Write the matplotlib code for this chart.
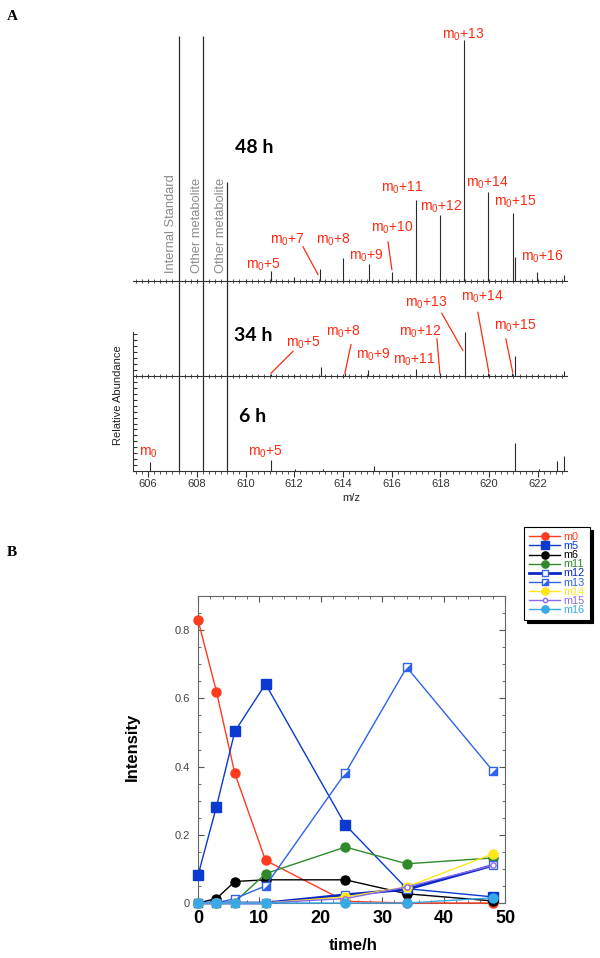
import numpy as np
import matplotlib
matplotlib.use('Agg')
import matplotlib.pyplot as plt
from matplotlib.ticker import MultipleLocator, FixedLocator, FuncFormatter, NullFormatter

plt.rcParams['font.family'] = ['Liberation Sans', 'DejaVu Sans']
plt.rcParams['mathtext.default'] = 'regular'

# ---------------- panel A data (m/z, peak height in panel units) ----------------
# tall peaks crossing all three spectra, top measured from the 6 h baseline
big_mz = [607.26, 608.25, 609.25]
big_top = [4.58, 4.58, 3.04]

mz_48 = [611.05, 612.0, 613.05, 614.02, 615.06, 616.0, 617.0, 617.98, 618.98,
         619.96, 620.97, 621.07, 621.96, 623.06]
h_48 = [0.105, 0.04, 0.13, 0.24, 0.18, 0.09, 0.85, 0.70, 2.54,
        0.94, 0.72, 0.25, 0.10, 0.06]

mz_34 = [611.04, 613.08, 614.07, 615.04, 617.0, 617.98, 619.0, 619.96, 620.95,
         621.08, 623.06]
h_34 = [0.02, 0.09, 0.03, 0.065, 0.075, 0.03, 0.46, 0.03, 0.03, 0.21, 0.055]

mz_6 = [606.08, 611.04, 612.03, 613.17, 615.27, 621.08, 622.07, 622.8, 623.06]
h_6 = [0.10, 0.115, 0.02, 0.02, 0.05, 0.30, 0.02, 0.105, 0.16]

# ---------------- panel B data ----------------
times = [0, 3, 6, 11, 24, 34, 48]
m0 = [0.83, 0.62, 0.38, 0.125, 0.005, 0.0, 0.0]
m5 = [0.081, 0.282, 0.503, 0.642, 0.229, 0.042, 0.018]
m6 = [0.0, 0.013, 0.063, 0.068, 0.068, 0.027, 0.006]
m11 = [0.0, 0.0, 0.003, 0.086, 0.164, 0.115, 0.132]
m12 = [0.0, 0.0, 0.0, 0.0, 0.024, 0.04, 0.11]
m13 = [0.0, 0.0, 0.013, 0.05, 0.381, 0.691, 0.388]
m14 = [0.0, 0.0, 0.0, 0.0, 0.018, 0.047, 0.144]
m15 = [0.0, 0.0, 0.0, 0.0, 0.013, 0.047, 0.11]
m16 = [0.0, 0.0, 0.0, 0.0, 0.0, 0.0, 0.015]

W, H = 600, 958
fig = plt.figure(figsize=(6, 9.58), dpi=100)


def px_axes(l, t, r, b):
    return fig.add_axes([l / W, 1 - b / H, (r - l) / W, (b - t) / H])


RED = '#ff2a12'
PK = '#2a2a2a'
UNIT = 95.0  # px per spectrum panel

ax6 = px_axes(133, 376, 567, 471)
ax34 = px_axes(133, 281, 567, 376)
ax48 = px_axes(133, 30, 567, 281)

for ax, off, hpx in [(ax6, 0, 95), (ax34, 1, 95), (ax48, 2, 251)]:
    ax.set_xlim(605.38, 623.2)
    ax.set_ylim(0, hpx / UNIT)
    ax.patch.set_alpha(0)
    ax.spines['top'].set_visible(False)
    ax.spines['right'].set_visible(False)
    ax.spines['bottom'].set_color('#333333')
    ax.spines['bottom'].set_linewidth(0.8)
    ax.vlines(big_mz, 0, np.array(big_top) - off, color=PK, lw=0.9)
    ax.xaxis.set_major_locator(MultipleLocator(2))
    ax.xaxis.set_minor_locator(MultipleLocator(0.25))

ax6.vlines(mz_6, 0, h_6, color=PK, lw=0.8)
ax34.vlines(mz_34, 0, h_34, color=PK, lw=0.8)
ax48.vlines(mz_48, 0, h_48, color=PK, lw=0.8)

# axes ticks
ax6.tick_params(axis='x', which='major', direction='out', length=4, labelsize=8, colors='#333333', pad=2)
ax6.tick_params(axis='x', which='minor', direction='out', length=2.5, colors='#333333')
for ax in (ax34, ax48):
    ax.tick_params(axis='x', which='both', direction='inout', length=3, labelbottom=False, colors='#333333')

ax6.spines['left'].set_color('#333333')
ax6.spines['left'].set_linewidth(0.8)
ax6.yaxis.set_major_locator(FixedLocator(np.arange(0, 1.0, 0.0625)))
ax6.yaxis.set_major_formatter(NullFormatter())
ax6.tick_params(axis='y', direction='in', length=3, colors='#333333')

ax34.spines['left'].set_color('#333333')
ax34.spines['left'].set_linewidth(0.8)
ax34.spines['left'].set_bounds(0, 0.46)
ax34.yaxis.set_major_locator(FixedLocator(np.arange(0.0625, 0.47, 0.0625)))
ax34.yaxis.set_major_formatter(NullFormatter())
ax34.tick_params(axis='y', direction='in', length=3, colors='#333333')

ax48.spines['left'].set_visible(False)
ax48.tick_params(axis='y', left=False, labelleft=False)

# peak labels: (text, x, y, leader line or None)
lab48 = [('m$_0$+5', 610.72, 0.17, None),
         ('m$_0$+7', 611.70, 0.43, (612.36, 0.36, 612.97, 0.07)),
         ('m$_0$+8', 613.59, 0.43, None),
         ('m$_0$+9', 614.94, 0.27, None),
         ('m$_0$+10', 616.01, 0.56, (615.85, 0.41, 616.01, 0.12)),
         ('m$_0$+11', 616.42, 0.98, None),
         ('m$_0$+12', 618.02, 0.78, None),
         ('m$_0$+13', 618.92, 2.59, None),
         ('m$_0$+14', 619.91, 1.03, None),
         ('m$_0$+15', 621.06, 0.83, None),
         ('m$_0$+16', 622.2, 0.25, None)]
lab34 = [('m$_0$+5', 612.36, 0.35, (611.95, 0.26, 611.05, 0.03)),
         ('m$_0$+8', 614.0, 0.46, (614.33, 0.33, 614.08, 0.03)),
         ('m$_0$+9', 615.23, 0.22, None),
         ('m$_0$+11', 616.91, 0.17, None),
         ('m$_0$+12', 617.16, 0.46, (617.86, 0.39, 617.98, 0.03)),
         ('m$_0$+13', 617.4, 0.77, (618.06, 0.66, 618.92, 0.27)),
         ('m$_0$+14', 619.74, 0.83, (619.54, 0.67, 619.99, 0.04)),
         ('m$_0$+15', 621.06, 0.53, (620.69, 0.39, 620.97, 0.04))]
lab6 = [('m$_0$', 606.0, 0.19, None),
        ('m$_0$+5', 610.8, 0.20, None)]

for ax, labs in [(ax48, lab48), (ax34, lab34), (ax6, lab6)]:
    for txt, x, y, ln in labs:
        ax.text(x, y, txt, color=RED, fontsize=10, ha='center', va='center', clip_on=False)
        if ln is not None:
            ax.plot([ln[0], ln[2]], [ln[1], ln[3]], color=RED, lw=0.9, clip_on=False)

bold_font = ['Lato', 'DejaVu Sans']
ax48.text(610.35, 1.41, '48 h', fontsize=14, fontweight='bold', family=bold_font, ha='center', va='center')
ax34.text(610.31, 0.43, '34 h', fontsize=14, fontweight='bold', family=bold_font, ha='center', va='center')
ax6.text(610.31, 0.57, '6 h', fontsize=14, fontweight='bold', family=bold_font, ha='center', va='center')

for x, txt in [(606.93, 'Internal Standard'), (608.0, 'Other metabolite'), (608.98, 'Other metabolite')]:
    ax48.text(x, 0.085, txt, rotation=90, color='#8c8c8c', fontsize=9.3, ha='center', va='bottom')

fig.text(118 / W, 1 - 395 / H, 'Relative Abundance', rotation=90, fontsize=8, ha='center', va='center', color='#222222')
fig.text(351 / W, 1 - 498 / H, 'm/z', fontsize=8, ha='center', va='center', color='#222222')
fig.text(12 / W, 1 - 17 / H, 'A', fontsize=11, fontweight='bold', family=['Liberation Serif'], ha='center', va='center')

# ---------------- panel B ----------------
axB = px_axes(198, 596, 505, 903)
axB.set_xlim(0, 50)
axB.set_ylim(0, 0.9)

series = [
    ('m0', m0, dict(color='#ff3b1f', marker='o', ms=6.5, lw=1.0)),
    ('m5', m5, dict(color='#0a3ad0', marker='s', ms=6.5, lw=1.0)),
    ('m6', m6, dict(color='#000000', marker='o', ms=6.5, lw=1.0, mfc='black')),
    ('m11', m11, dict(color='#2f8a2a', marker='o', ms=6.5, lw=1.0)),
    ('m12', m12, dict(color='#0a28c8', marker='s', ms=6.0, lw=2.0, mfc='white', mec='#3a66e6', mew=1.0)),
    ('m13', m13, dict(color='#2f62ea', marker='s', ms=6.0, lw=1.0, mfc='white', mec='#2f62ea', mew=1.0)),
    ('m14', m14, dict(color='#ffe61a', marker='o', ms=6.5, lw=1.0)),
    ('m15', m15, dict(color='#8a6af0', marker='o', ms=3.8, lw=1.0, mfc='white', mew=1.0)),
    ('m16', m16, dict(color='#36a9e6', marker='o', ms=6.5, lw=1.0)),
]

handles = []
for name, vals, kw in series:
    line, = axB.plot(times, vals, clip_on=False, zorder=3, **kw)
    h = line
    if name == 'm13':
        # half-filled square
        tri, = axB.plot(times, vals, ls='none', marker=[(-1, -1), (1, -1), (1, 1)], ms=6.0,
                        color=kw['color'], mec='none', clip_on=False, zorder=3)
        h = (line, tri)
    handles.append(h)

axB.xaxis.set_major_locator(MultipleLocator(10))
axB.xaxis.set_minor_locator(MultipleLocator(2))
axB.yaxis.set_major_locator(MultipleLocator(0.2))
axB.yaxis.set_minor_locator(MultipleLocator(0.05))
axB.yaxis.set_major_formatter(FuncFormatter(lambda v, p: '0' if abs(v) < 1e-9 else '%g' % v))
axB.tick_params(which='both', direction='in', top=True, right=True, colors='#555555')
axB.tick_params(which='major', length=4)
axB.tick_params(which='minor', length=2.5)
axB.tick_params(axis='y', labelsize=8, labelcolor='#444444', pad=6)
axB.tick_params(axis='x', labelsize=13, labelcolor='black', pad=5)
for lb in axB.get_xticklabels():
    lb.set_fontweight('bold')
for sp in axB.spines.values():
    sp.set_color('#666666')
    sp.set_linewidth(0.8)

fig.text(353 / W, 1 - 945 / H, 'time/h', fontsize=12, fontweight='bold', ha='center', va='center')
fig.text(132 / W, 1 - 747 / H, 'Intensity', fontsize=12, fontweight='bold', rotation=90, ha='center', va='center')
fig.text(12 / W, 1 - 553 / H, 'B', fontsize=11, fontweight='bold', family=['Liberation Serif'], ha='center', va='center')

leg = fig.legend(handles, [s[0] for s in series], loc='upper left', bbox_to_anchor=(524 / W, 1 - 527 / H),
                 borderaxespad=0, fontsize=7.8, labelspacing=-0.08, handlelength=2.9, handleheight=0.6,
                 handletextpad=0.3, borderpad=0.45, markerscale=0.8, fancybox=False, edgecolor='black',
                 framealpha=1, shadow={'color': 'black', 'alpha': 1.0, 'ox': 2.5, 'oy': -2.5})
leg.get_frame().set_linewidth(0.8)
for txt, (name, vals, kw) in zip(leg.get_texts(), series):
    txt.set_color(kw['color'])

fig.savefig('out.png', dpi=100)
